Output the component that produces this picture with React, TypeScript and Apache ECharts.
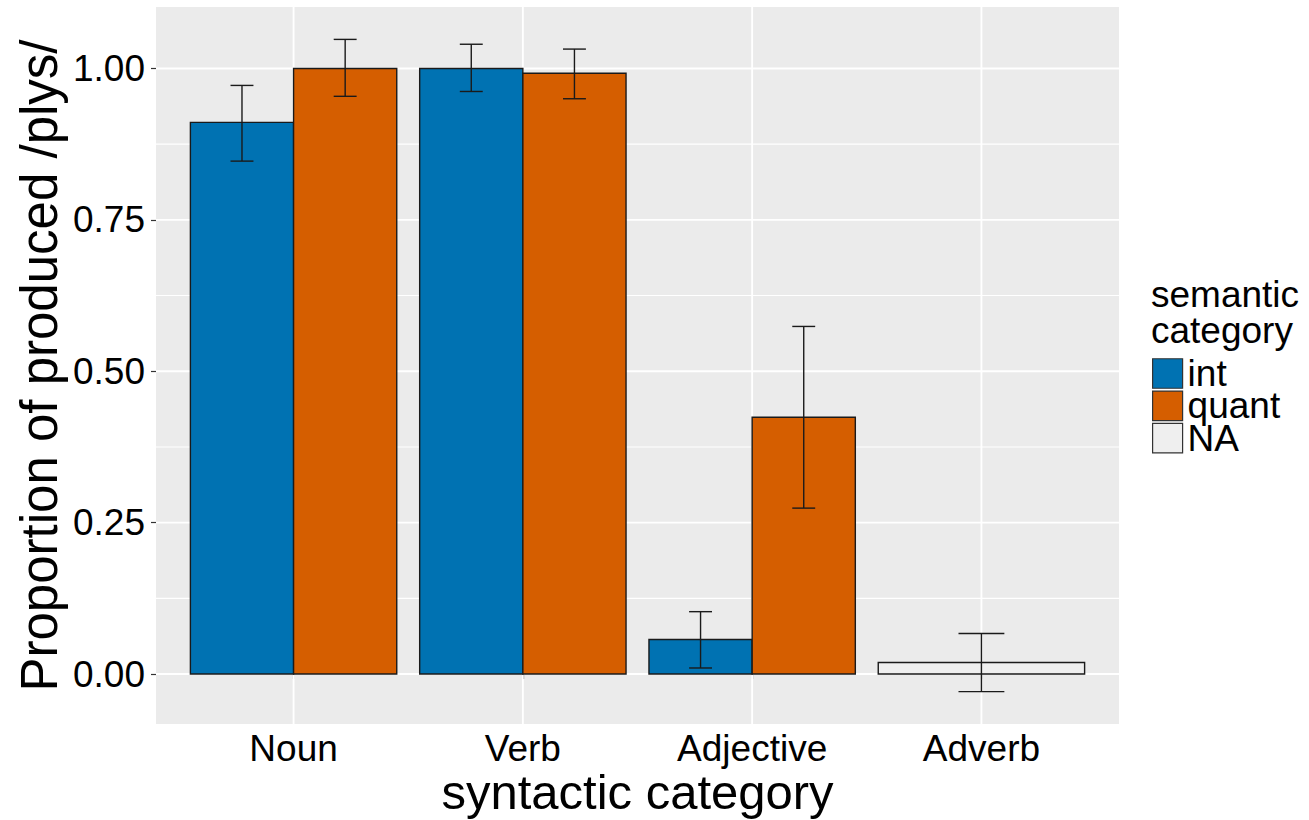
import React, { useEffect, useRef } from "react";
import * as echarts from "echarts";

const categories = ["Noun", "Verb", "Adjective", "Adverb"];
const intValues = [0.911, 1.0, 0.057, null];
const intLow = [0.847, 0.962, 0.01, null];
const intHigh = [0.972, 1.04, 0.103, null];
const quantValues = [1.0, 0.992, 0.424, null];
const quantLow = [0.954, 0.95, 0.274, null];
const quantHigh = [1.048, 1.032, 0.574, null];
const naValues = [null, null, null, 0.019];
const naLow = [null, null, null, -0.029];
const naHigh = [null, null, null, 0.067];
const yTicks = [0, 0.25, 0.5, 0.75, 1];
const yMinor = [0.125, 0.375, 0.625, 0.875];
const xTicks = [1, 2, 3, 4];

const FONT = "'Liberation Sans', Arial, sans-serif";
const X_MIN = 0.4;
const X_MAX = 4.6;
const Y_MIN = -0.0825;
const Y_MAX = 1.1015;

function buildData(vals: (number | null)[], lo: (number | null)[], hi: (number | null)[]) {
  const out: number[][] = [];
  vals.forEach((v, i) => {
    if (v !== null) out.push([i + 1, v, lo[i] as number, hi[i] as number]);
  });
  return out;
}

function barRenderer(offset: number, width: number, cap: number, fill: string) {
  return (params: any, api: any) => {
    const x = api.value(0);
    const v = api.value(1);
    const lo = api.value(2);
    const hi = api.value(3);
    const pL = api.coord([x + offset - width / 2, 0]);
    const pR = api.coord([x + offset + width / 2, v]);
    const cx = api.coord([x + offset, 0])[0];
    const capPx = api.coord([x + offset + cap, 0])[0] - cx;
    const yLo = api.coord([x, lo])[1];
    const yHi = api.coord([x, hi])[1];
    const stroke = "#1a1a1a";
    return {
      type: "group",
      children: [
        {
          type: "rect",
          shape: { x: pL[0], y: pR[1], width: pR[0] - pL[0], height: pL[1] - pR[1] },
          style: { fill, stroke, lineWidth: 1.4 },
        },
        {
          type: "line",
          shape: { x1: cx, y1: yLo, x2: cx, y2: yHi },
          style: { stroke, lineWidth: 1.4 },
        },
        {
          type: "line",
          shape: { x1: cx - capPx, y1: yHi, x2: cx + capPx, y2: yHi },
          style: { stroke, lineWidth: 1.4 },
        },
        {
          type: "line",
          shape: { x1: cx - capPx, y1: yLo, x2: cx + capPx, y2: yLo },
          style: { stroke, lineWidth: 1.4 },
        },
      ],
    };
  };
}

function hGridRenderer(lw: number) {
  return (params: any, api: any) => {
    const cs = params.coordSys;
    const y = api.coord([2.5, api.value(1)])[1];
    return {
      type: "line",
      shape: { x1: cs.x, y1: y, x2: cs.x + cs.width, y2: y },
      style: { stroke: "#ffffff", lineWidth: lw },
    };
  };
}

function vGridRenderer(lw: number) {
  return (params: any, api: any) => {
    const cs = params.coordSys;
    const x = api.coord([api.value(0), 0.5])[0];
    return {
      type: "line",
      shape: { x1: x, y1: cs.y, x2: x, y2: cs.y + cs.height },
      style: { stroke: "#ffffff", lineWidth: lw },
    };
  };
}

const COLORS = { int: "#0072B2", quant: "#D55E00", NA: "#EFEFEF" };

export default function App() {
  const ref = useRef<HTMLDivElement>(null);
  useEffect(() => {
    if (!ref.current) return;
    const chart = echarts.init(ref.current, undefined, { renderer: "svg" });
    const option: any = {
      animation: false,
      textStyle: { fontFamily: FONT },
      title: {
        text: "semantic\ncategory",
        left: 1151,
        top: 276.5,
        padding: 0,
        textStyle: { fontFamily: FONT, fontSize: 37, fontWeight: "normal", color: "#000", lineHeight: 36 },
      },
      legend: {
        orient: "vertical",
        left: 1152,
        top: 355,
        padding: 0,
        itemWidth: 30,
        itemHeight: 29.5,
        itemGap: -4.7,
        icon: "rect",
        textStyle: { fontFamily: FONT, fontSize: 37, color: "#000", padding: [0, 0, 0, 0] },
        data: [
          { name: "int", itemStyle: { color: COLORS.int, borderColor: "#333", borderWidth: 1.2 } },
          { name: "quant", itemStyle: { color: COLORS.quant, borderColor: "#333", borderWidth: 1.2 } },
          { name: "NA", itemStyle: { color: COLORS.NA, borderColor: "#333", borderWidth: 1.2 } },
        ],
      },
      grid: {
        left: 156,
        top: 7,
        width: 963,
        height: 717,
        show: true,
        backgroundColor: "#EBEBEB",
        borderWidth: 0,
        containLabel: false,
        outerBoundsMode: "none",
      },
      xAxis: {
        type: "value",
        min: X_MIN,
        max: X_MAX,
        name: "syntactic category",
        nameLocation: "middle",
        nameGap: 43,
        nameMoveOverlap: false,
        nameTextStyle: { fontFamily: FONT, fontSize: 49, color: "#000" },
        axisLine: { show: false },
        axisTick: { show: true, length: 5, customValues: xTicks, lineStyle: { color: "#333", width: 1.2 } },
        axisLabel: {
          customValues: xTicks,
          formatter: (v: number) => categories[Math.round(v) - 1] ?? "",
          fontFamily: FONT,
          fontSize: 37,
          color: "#000",
          margin: 6,
        },
        splitLine: { show: false },
      },
      yAxis: {
        type: "value",
        min: Y_MIN,
        max: Y_MAX,
        name: "Proportion of produced /plys/",
        nameLocation: "middle",
        nameGap: 91,
        nameMoveOverlap: false,
        nameTextStyle: { fontFamily: FONT, fontSize: 51, color: "#000" },
        axisLine: { show: false },
        axisTick: { show: true, length: 5, customValues: yTicks, lineStyle: { color: "#333", width: 1.2 } },
        axisLabel: {
          customValues: yTicks,
          formatter: (v: number) => v.toFixed(2),
          fontFamily: FONT,
          fontSize: 37,
          color: "#000",
          margin: 11,
        },
        splitLine: { show: false },
      },
      series: [
        {
          type: "custom",
          name: "gridMinor",
          silent: true,
          z: 1,
          renderItem: hGridRenderer(1.1),
          data: yMinor.map((v) => [2.5, v]),
        },
        {
          type: "custom",
          name: "gridMajor",
          silent: true,
          z: 1,
          renderItem: hGridRenderer(1.9),
          data: yTicks.map((v) => [2.5, v]),
        },
        {
          type: "custom",
          name: "gridX",
          silent: true,
          z: 1,
          renderItem: vGridRenderer(1.9),
          data: xTicks.map((v) => [v, 0.5]),
        },
        {
          type: "custom",
          name: "int",
          z: 2,
          itemStyle: { color: COLORS.int, borderColor: "#333", borderWidth: 1.2 },
          renderItem: barRenderer(-0.225, 0.45, 0.05, COLORS.int),
          data: buildData(intValues, intLow, intHigh),
        },
        {
          type: "custom",
          name: "quant",
          z: 2,
          itemStyle: { color: COLORS.quant, borderColor: "#333", borderWidth: 1.2 },
          renderItem: barRenderer(0.225, 0.45, 0.05, COLORS.quant),
          data: buildData(quantValues, quantLow, quantHigh),
        },
        {
          type: "custom",
          name: "NA",
          z: 2,
          itemStyle: { color: COLORS.NA, borderColor: "#333", borderWidth: 1.2 },
          renderItem: barRenderer(0, 0.9, 0.1, COLORS.NA),
          data: buildData(naValues, naLow, naHigh),
        },
      ],
    };
    chart.setOption(option);
    return () => chart.dispose();
  }, []);
  return (
    <div
      ref={ref}
      style={{ position: "absolute", left: 0, top: 0, width: 1309, height: 820, background: "#fff" }}
    />
  );
}
